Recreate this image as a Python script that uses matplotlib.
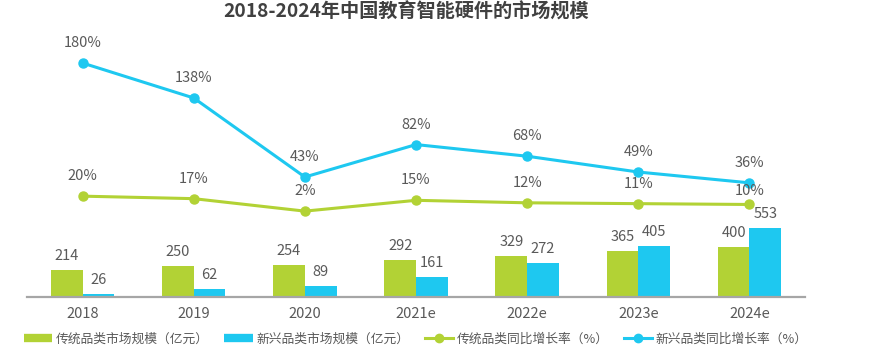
import numpy as np
import matplotlib
matplotlib.use('Agg')
import matplotlib.pyplot as plt
from matplotlib.lines import Line2D

plt.rcParams['font.family'] = ['Noto Sans CJK SC', 'DejaVu Sans']

years = ['2018', '2019', '2020', '2021e', '2022e', '2023e', '2024e']
trad_size = [214, 250, 254, 292, 329, 365, 400]
new_size = [26, 62, 89, 161, 272, 405, 553]
trad_growth = [20, 17, 2, 15, 12, 11, 10]
new_growth = [180, 138, 43, 82, 68, 49, 36]

green = '#B2D235'
cyan = '#1EC8F0'
txt = '#595959'

fig = plt.figure(figsize=(8.93, 3.49), dpi=100)
ax = fig.add_axes([27/893, 52/349, 778/893, 267/349])
x = np.arange(len(years))
w = 0.285

ax.bar(x - w/2, trad_size, w, color=green, zorder=2)
ax.bar(x + w/2, new_size, w, color=cyan, zorder=2)
for i in range(len(x)):
    ax.annotate(str(trad_size[i]), (x[i] - w/2, trad_size[i]), xytext=(0, 5),
                textcoords='offset points', ha='center', va='bottom', fontsize=10.5, color=txt)
    ax.annotate(str(new_size[i]), (x[i] + w/2, new_size[i]), xytext=(0, 5),
                textcoords='offset points', ha='center', va='bottom', fontsize=10.5, color=txt)

ax.set_xlim(-0.5, len(years) - 0.5)
ax.set_ylim(0, 2131)
ax.set_xticks(x)
ax.set_xticklabels(years, fontsize=10.5, color=txt)
ax.tick_params(axis='x', length=0, pad=7)
ax.set_yticks([])
for s in ['top', 'left', 'right']:
    ax.spines[s].set_visible(False)
ax.spines['bottom'].set_color('#A6A6A6')
ax.spines['bottom'].set_linewidth(1.6)

ax2 = ax.twinx()
ax2.plot(x, trad_growth, color=green, lw=2.2, marker='o', ms=6.5, zorder=3)
ax2.plot(x, new_growth, color=cyan, lw=2.2, marker='o', ms=6.5, zorder=3)
for i in range(len(x)):
    dy = 14.4 if i < len(x) - 1 else 9.5
    ax2.annotate(f'{trad_growth[i]}%', (x[i], trad_growth[i]), xytext=(0, dy),
                 textcoords='offset points', ha='center', va='center', fontsize=10.5, color=txt)
    ax2.annotate(f'{new_growth[i]}%', (x[i], new_growth[i]), xytext=(0, 14.4),
                 textcoords='offset points', ha='center', va='center', fontsize=10.5, color=txt)
ax2.set_ylim(-101.2, 219.7)
ax2.set_yticks([])
for s in ax2.spines.values():
    s.set_visible(False)

fig.text(406/893, 1 - 12/349, '2018-2024年中国教育智能硬件的市场规模', ha='center', va='center',
         fontsize=13.8, fontweight='bold', color='#404040')

handles = [
    Line2D([], [], color=green, lw=6, solid_capstyle='butt'),
    Line2D([], [], color=cyan, lw=6, solid_capstyle='butt'),
    Line2D([], [], color=green, lw=2.2, marker='o', ms=6),
    Line2D([], [], color=cyan, lw=2.2, marker='o', ms=6),
]
labels = ['传统品类市场规模（亿元）', '新兴品类市场规模（亿元）', '传统品类同比增长率（%）', '新兴品类同比增长率（%）']
leg = ax.legend(handles, labels, loc='center', bbox_to_anchor=(0.5, -0.158), ncol=4,
                frameon=False, fontsize=9.2, handlelength=2.2, handletextpad=0.3,
                columnspacing=1.2, labelcolor=txt)

fig.savefig('out.png', dpi=100)
